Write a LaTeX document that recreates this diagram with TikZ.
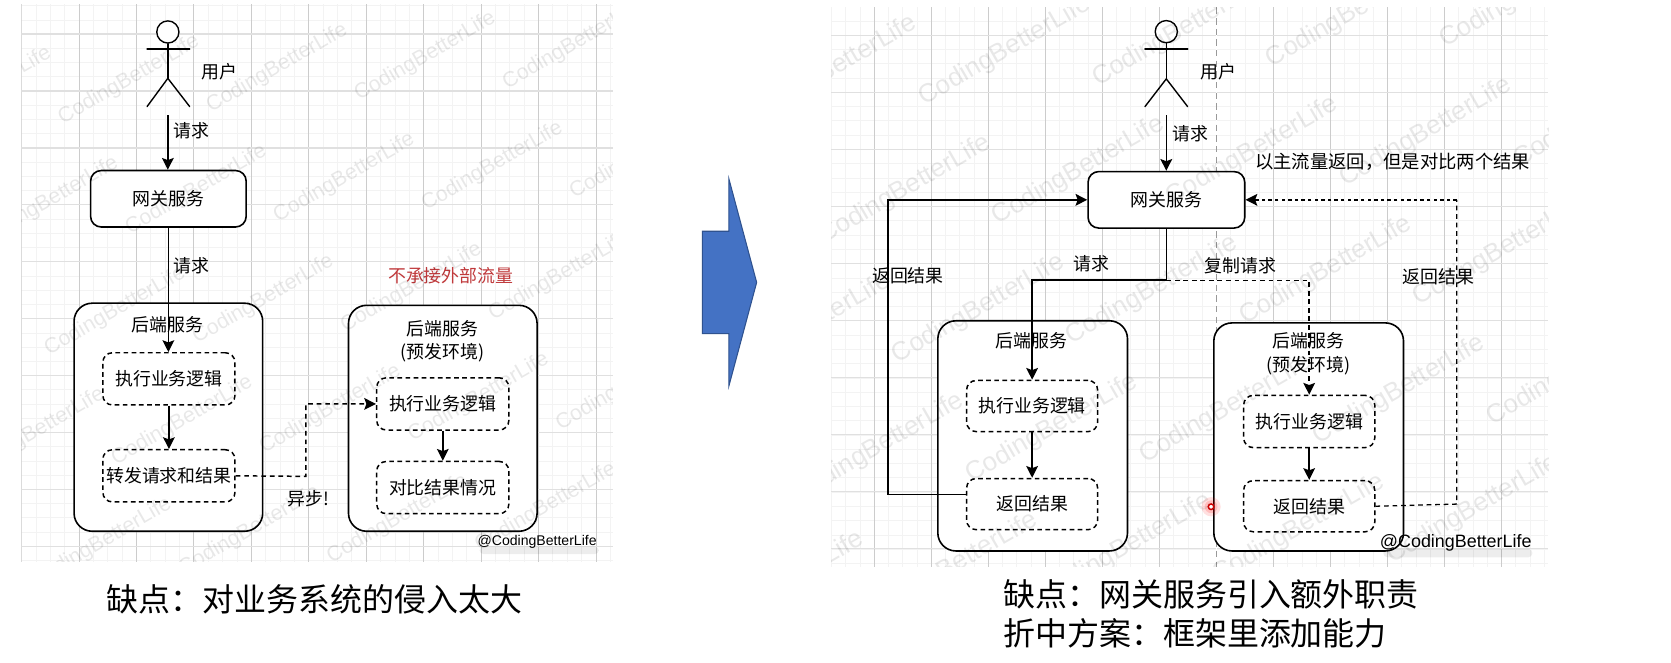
\documentclass[tikz,border=0pt]{standalone}
\usepackage{fontspec}
\setmainfont{Noto Sans CJK SC}
\newfontfamily\latinfont{Liberation Sans}
\usetikzlibrary{arrows.meta,shapes.geometric}
\definecolor{gridmajor}{HTML}{CCCCCC}
\definecolor{gridhoriz}{HTML}{E0E0E0}
\definecolor{gridminor}{HTML}{F3F3F3}
\definecolor{redlabel}{HTML}{C0393B}
\definecolor{bluearrow}{HTML}{4472C4}
\definecolor{bluearrowedge}{HTML}{2F528F}
\tikzset{
  wh/.style 2 args={minimum width=#1*0.5pt,minimum height=#2*0.5pt,inner sep=0pt},
  outerbox/.style={draw=black,line width=.75pt,rounded corners=8.5pt,fill=white},
  gatebox/.style={draw=black,line width=.75pt,rounded corners=5pt,fill=white,font=\fontsize{8.4}{10}\selectfont},
  dashbox/.style={draw=black,line width=.7pt,dash pattern=on 2.2pt off 1.6pt,rounded corners=4.5pt,fill=white,font=\fontsize{8.4}{10}\selectfont},
  label/.style={inner sep=0pt,font=\fontsize{8.4}{10}\selectfont},
  multi/.style={inner sep=0pt,align=center,font=\fontsize{8.4}{11}\selectfont},
  caption/.style={inner sep=0pt,anchor=west,font=\fontsize{15}{18}\selectfont},
  arrowline/.style={line width=.75pt,-{Stealth[length=5.5pt,width=5.5pt,inset=1pt]}},
  dasharrow/.style={line width=.7pt,dash pattern=on 2.2pt off 1.8pt,-{Stealth[length=5.5pt,width=5.5pt,inset=1pt]}},
  dashthick/.style={line width=.9pt,dash pattern=on 1.6pt off 1.5pt,-{Stealth[length=5.5pt,width=5.5pt,inset=1pt]}},
  dashthin/.style={line width=.6pt,dash pattern=on 2.2pt off 1.8pt},
  plainline/.style={line width=.75pt},
  stick/.style={line width=.65pt,line cap=round},
  wmark/.style={inner sep=0pt,rotate=30,text=black,text opacity=.09},
}
\begin{document}
\begin{tikzpicture}[x=.5pt,y=-.5pt]
\useasboundingbox (0,0) rectangle (1568,622);
\fill[white] (0,0) rectangle (1568,622);

% ---- grid, left panel
\begin{scope}
  \clip (20,4) rectangle (575,527);
  \foreach \i in {0,...,44} {\draw[gridminor,line width=.35pt] ({20.2+13.475*\i},4) -- ({20.2+13.475*\i},527);}
  \foreach \i in {-2,...,40} {\draw[gridminor,line width=.35pt] (20,{32+13.35*\i}) -- (575,{32+13.35*\i});}
  \foreach \i in {0,...,10} {\draw[gridmajor,line width=.4pt] ({20.2+53.9*\i},4) -- ({20.2+53.9*\i},527);}
  \foreach \i in {0,...,9} {\draw[gridhoriz,line width=.6pt] (20,{32+53.4*\i}) -- (575,{32+53.4*\i});}
\end{scope}
% ---- grid, right panel
\begin{scope}
  \clip (780,7) rectangle (1453,532);
  \foreach \i in {-28,...,25} {\draw[gridminor,line width=.35pt] ({1141.4+13.375*\i},7) -- ({1141.4+13.375*\i},532);}
  \foreach \i in {-2,...,40} {\draw[gridminor,line width=.35pt] (780,{33+13.4*\i}) -- (1453,{33+13.4*\i});}
  \foreach \i in {-7,...,6} {\draw[gridmajor,line width=.4pt] ({1141.4+53.5*\i},7) -- ({1141.4+53.5*\i},532);}
  \foreach \i in {0,...,9} {\draw[gridhoriz,line width=.6pt] (780,{33+53.5*\i}) -- (1453,{33+53.5*\i});}
  \draw[white,line width=.6pt] (1141.4,7) -- (1141.4,532);
  \draw[gridmajor!75!black,line width=.4pt,dash pattern=on 3pt off 2pt] (1141.4,7) -- (1141.4,532);
\end{scope}

% ---- left panel: actor
\node[draw=black,line width=.65pt,circle,minimum size=10.4pt,inner sep=0pt,fill=white] (headL) at (157.5,30) {};
\coordinate (hipL) at (157.5,73.5);
\draw[stick] (headL.south) -- (hipL);
\draw[stick] (138,46) -- (178,46);
\draw[stick] (138,100) -- (hipL) -- (178,100);
\node[label] (userL) at (206,67) {用户};
\coordinate (userOutL) at (157.5,108);

% ---- left panel: boxes
\node[gatebox,wh={146}{53}] (gateL) at (158,186.5) {网关服务};
\node[outerbox,wh={177}{214}] (backL) at (158,391.5) {};
\node[outerbox,wh={177}{212}] (backR) at (415.5,392.5) {};
\node[dashbox,wh={124}{49}] (execL) at (158.5,355.5) {执行业务逻辑};
\node[dashbox,wh={124}{49}] (fwdL) at (158.5,446.5) {转发请求和结果};
\node[dashbox,wh={124}{49}] (execR) at (415.5,379) {执行业务逻辑};
\node[dashbox,wh={124}{49}] (cmpR) at (415.5,457.5) {对比结果情况};

\node[label] (backLtxt) at (157,305) {后端服务};
\node[multi] (backRtxt) at (415,320) {后端服务\\(预发环境)};
\node[label,text=redlabel] (nolabel) at (423,259) {不承接外部流量};
\node[label] (reqL1) at (180,123) {请求};
\node[label] (reqL2) at (180,249) {请求};
\node[label] (asyncL) at (289,468) {异步!};
\coordinate (asyncTurn) at (287,447);

\draw[arrowline] (userOutL) -- (gateL.north -| userOutL);
\draw[arrowline] (gateL.south) -- (execL.north -| gateL.south);
\draw[arrowline] (execL.south) -- (fwdL.north);
\draw[arrowline] (execR.south) -- (cmpR.north);
\draw[dasharrow] (fwdL.east) -- (asyncTurn) |- (execR.west);

\fill[black,opacity=.07,rounded corners=2pt] (450,513) rectangle (562,520);
\node[inner sep=0pt,font=\latinfont\fontsize{6.6}{8}\selectfont] (handleL) at (504,508) {@CodingBetterLife};

% ---- big arrow
\filldraw[fill=bluearrow,draw=bluearrowedge,line width=.5pt]
  (659,217) -- (684,217) -- (684,168) -- (710,265) -- (684,362) -- (684,313) -- (659,313) -- cycle;

% ---- right panel: actor
\node[draw=black,line width=.65pt,circle,minimum size=10.4pt,inner sep=0pt,fill=white] (headR) at (1094.4,29.7) {};
\coordinate (hipR) at (1094.4,74);
\draw[stick] (headR.south) -- (hipR);
\draw[stick,line width=.9pt] (1074.4,46.3) -- (1114.4,46.3);
\draw[stick] (1074.4,100) -- (hipR) -- (1114.4,100);
\node[label] (userR) at (1143.6,67) {用户};
\coordinate (userOutR) at (1094.4,108);

% ---- right panel: boxes
\node[gatebox,wh={147}{53}] (gateM) at (1094.5,187.5) {网关服务};
\node[outerbox,wh={178}{216}] (backA) at (969,409) {};
\node[outerbox,wh={178}{214}] (backB) at (1228,410) {};
\node[dashbox,wh={123}{48}] (execA) at (968.5,381) {执行业务逻辑};
\node[dashbox,wh={123}{48}] (retA) at (968.5,473) {返回结果};
\node[dashbox,wh={123}{49}] (execB) at (1228.5,395.5) {执行业务逻辑};
\node[dashbox,wh={123}{48}] (retB) at (1228.5,475) {返回结果};

\node[label] (backAtxt) at (968,320) {后端服务};
\node[multi] (backBtxt) at (1228,332) {后端服务\\(预发环境)};
\node[label] (reqR1) at (1117,125) {请求};
\node[label] (reqR2) at (1024,247) {请求};
\node[label] (copyR) at (1164,249) {复制请求};
\node[label] (retLabA) at (852,259) {返回结果};
\node[label] (retLabB) at (1350,260) {返回结果};
\node[label,font=\fontsize{8.6}{10}\selectfont] (mainback) at (1306.8,152) {以主流量返回，但是对比两个结果};

\coordinate (split) at (1094.4,263);
\coordinate (retTurnA) at (833,464);
\coordinate (retTurnB) at (1367,473);

\draw[arrowline] (userOutR) -- (gateM.north -| userOutR);
\draw[plainline] (gateM.south -| split) -- (split);
\draw[arrowline] (split) -| (execA.north);
\draw[dasharrow] (split) -| (execB.north);
\draw[arrowline] (execA.south) -- (retA.north);
\draw[arrowline] (execB.south) -- (retB.north);
\draw[arrowline,line width=.85pt] (retA.west |- retTurnA) -- (retTurnA) |- (gateM.west);
\draw[dashthin] (retB.east) -- (retTurnB) -- (retTurnB |- gateM.east);
\draw[dashthick] (retTurnB |- gateM.east) -- (gateM.east);

\fill[black,opacity=.07,rounded corners=2pt] (1298,515) rectangle (1438,523);
\node[inner sep=0pt,font=\latinfont\fontsize{8.4}{10}\selectfont] (handleR) at (1366,509) {@CodingBetterLife};

% ---- watermarks
\begin{scope}
  \clip (20,4) rectangle (575,527);
  \foreach \i in {-2,...,5} \foreach \j in {-1,...,5} {
    \pgfmathsetmacro\wx{121+139*\i+63*\j}
    \pgfmathsetmacro\wy{75-11*\i+103*\j}
    \pgfmathtruncatemacro\keep{(\wx>-30)&&(\wx<635)&&(\wy>-30)&&(\wy<565)?1:0}
    \ifnum\keep=1
      \node[wmark,font=\latinfont\fontsize{10}{12}\selectfont] at (\wx,\wy) {CodingBetterLife};
    \fi
  }
\end{scope}
\begin{scope}
  \clip (780,7) rectangle (1453,532);
  \foreach \i in {-3,...,5} \foreach \j in {-1,...,5} {
    \pgfmathsetmacro\wx{943+163*\i+69*\j}
    \pgfmathsetmacro\wy{48-18*\i+112*\j}
    \pgfmathtruncatemacro\keep{(\wx>710)&&(\wx<1523)&&(\wy>-35)&&(\wy<575)?1:0}
    \ifnum\keep=1
      \node[wmark,font=\latinfont\fontsize{12.2}{14}\selectfont] at (\wx,\wy) {CodingBetterLife};
    \fi
  }
\end{scope}

% ---- cursor marker
\fill[red,opacity=.12] (1136.4,475.5) circle (4.5pt);
\fill[red,opacity=.15] (1136.4,475.5) circle (3pt);
\draw[red!80!black,line width=.7pt,fill=white] (1136.4,475.5) circle (1.3pt);

% ---- captions
\node[caption] (capL) at (100,562) {缺点：对业务系统的侵入太大};
\node[caption] (capR1) at (941,558) {缺点：网关服务引入额外职责};
\node[caption] (capR2) at (941,594) {折中方案：框架里添加能力};
\end{tikzpicture}
\end{document}
